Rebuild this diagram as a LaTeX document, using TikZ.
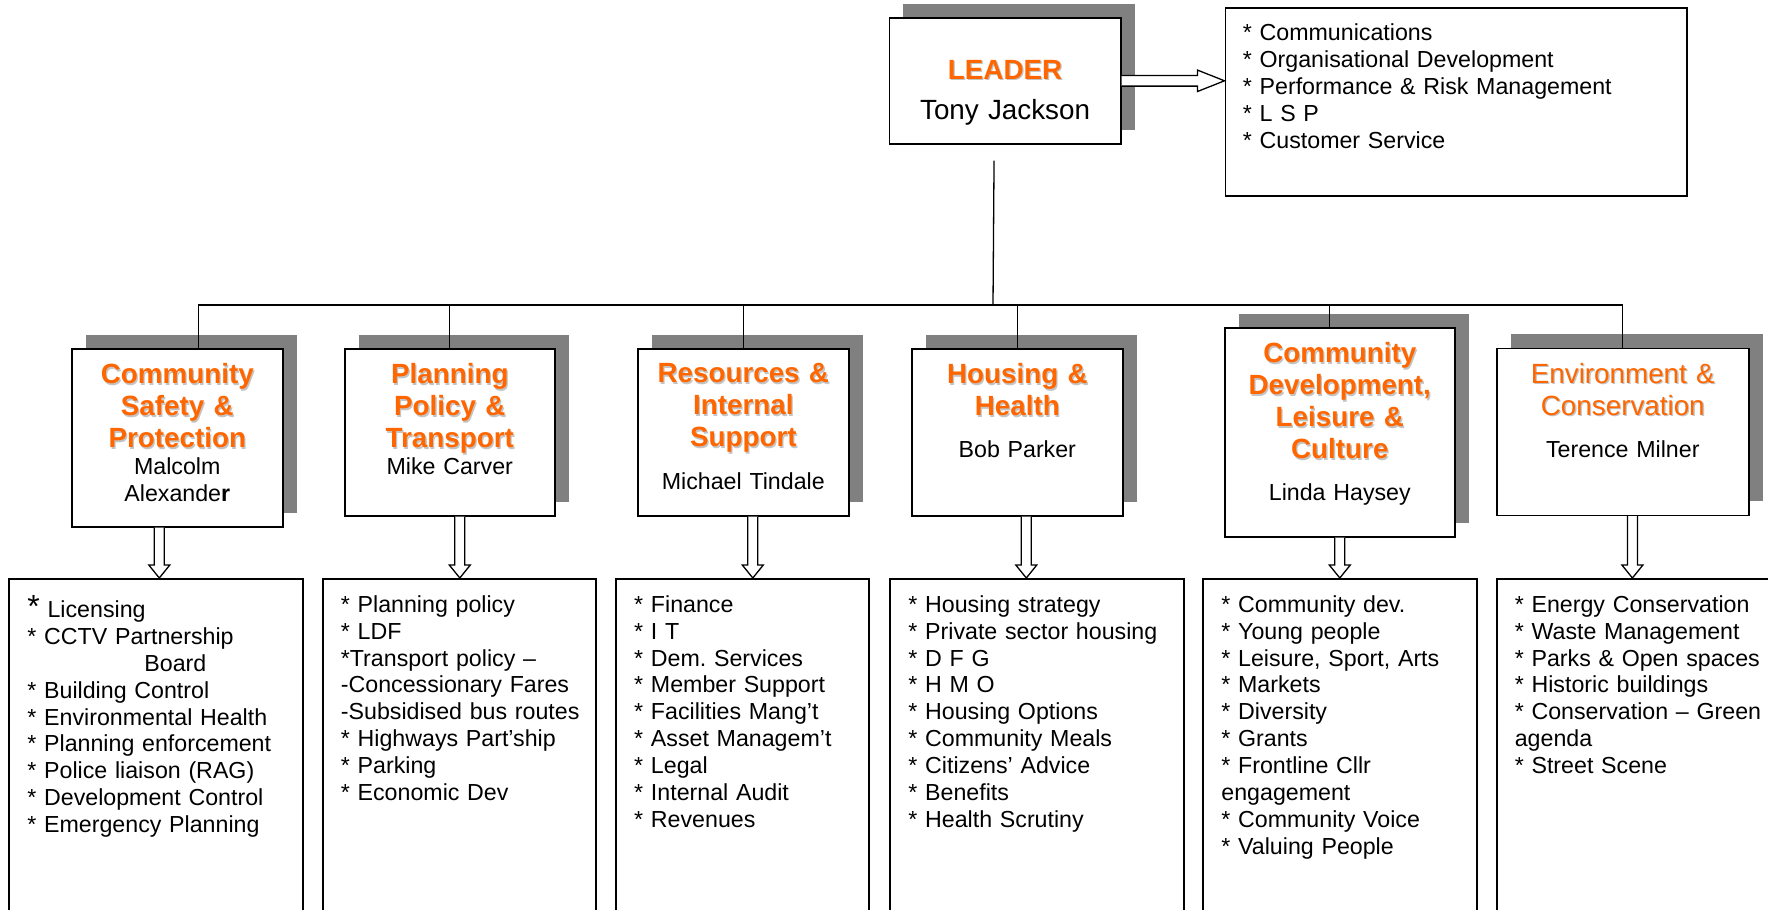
\documentclass[tikz,border=0pt]{standalone}
\usepackage{fontspec}
\setmainfont{Liberation Sans}
\usetikzlibrary{positioning}
\usetikzlibrary{shadows}
\usetikzlibrary{calc}
\frenchspacing

\definecolor{headorange}{HTML}{FF6600}
\definecolor{shadowgrey}{HTML}{808080}
\definecolor{glowgrey}{HTML}{C4C4C4}

\tikzset{
  box/.style={draw,line width=0.8pt,fill=white,inner sep=0pt,anchor=north west},
  shadowbox/.style={box,general shadow={fill=shadowgrey,draw=none,shadow xshift=7pt,shadow yshift=7pt}},
  headtxt/.style={inner sep=0pt,align=center,text width=112pt,font=\fontsize{13.9}{16}\selectfont\bfseries},
  plainhead/.style={font=\fontsize{13.9}{16}\selectfont},
  nametxt/.style={inner sep=0pt,align=center,text width=112pt,font=\fontsize{11.6}{13.45}\selectfont},
  listtxt/.style={inner sep=0pt,align=left,text width=200pt,font=\fontsize{11.6}{13.45}\selectfont},
  link/.style={line width=0.65pt},
  hollow/.style={draw,fill=white,line width=0.65pt,line join=miter},
}

% orange heading, light grey copy behind it
\newcommand{\heading}[4][]{%
  \node[headtxt,#1,#3,shift={(1.3,1.3)},text=glowgrey] (#2s) {#4};
  \node[headtxt,#1,#3,text=headorange] (#2) {#4};}

% open block arrow: xshift, upper node, lower node
\newcommand{\openarrow}[3]{%
  \draw[hollow] let \p1=($(#2.south)+(#1,0)$), \p2=(#3.north) in
    (\x1-2.5pt,\y1) -- (\x1-2.5pt,\y2+6.5pt) -- (\x1-5.25pt,\y2+6.5pt) -- (\x1,\y2)
    -- (\x1+5.25pt,\y2+6.5pt) -- (\x1+2.5pt,\y2+6.5pt) -- (\x1+2.5pt,\y1);}

\begin{document}
\begin{tikzpicture}[x=0.5pt,y=-0.5pt]
  \useasboundingbox (0,0) rectangle (1768,910);
  \clip (0,0) rectangle (1768,910);

  \node[shadowbox,minimum width=115.75pt,minimum height=63pt] (leader) at (888.5,17) {};%リーダー
  \heading{leadhd}{below=21.5pt of leader.north}{LEADER}
  \node[nametxt,plainhead,below=41pt of leader.north] (leadnm) {Tony Jackson};

  \node[box,minimum width=230.75pt,minimum height=94pt] (duties) at (1224.5,7) {};%担当業務
  \node[listtxt,below right=8.25pt and 9pt of duties.north west] (dutiestxt)
    {* Communications\\{}* Organisational Development\\{}* Performance \& Risk Management\\{}* L S P\\{}* Customer Service};

  % departments
  \node[shadowbox,minimum width=105.5pt,minimum height=89pt] (d1) at (71,348) {};
  \heading{d1hd}{below=7.6pt of d1.north}{Community\\Safety \&\\Protection}
  \node[nametxt,below=54.7pt of d1.north] (d1nm) {Malcolm\\Alexande\textbf{r}};

  \node[shadowbox,minimum width=105pt,minimum height=83.5pt] (d2) at (344,348) {};
  \heading{d2hd}{below=7.6pt of d2.north}{Planning\\Policy \&\\Transport}
  \node[nametxt,below=54.7pt of d2.north] (d2nm) {Mike Carver};

  \node[shadowbox,minimum width=105.5pt,minimum height=83.5pt] (d3) at (637,348) {};
  \heading{d3hd}{below=7.6pt of d3.north}{Resources \&\\Internal\\Support}
  \node[nametxt,below=61.9pt of d3.north] (d3nm) {Michael Tindale};

  \node[shadowbox,minimum width=105.5pt,minimum height=83.5pt] (d4) at (911,348) {};
  \heading{d4hd}{below=7.6pt of d4.north}{Housing \&\\Health}
  \node[nametxt,below=46.3pt of d4.north] (d4nm) {Bob Parker};

  \node[shadowbox,minimum width=115pt,minimum height=104.5pt] (d5) at (1224,327) {};
  \heading{d5hd}{below=7.6pt of d5.north}{Community\\Development,\\Leisure \&\\Culture}
  \node[nametxt,below=78.3pt of d5.north] (d5nm) {Linda Haysey};

  \node[shadowbox,minimum width=126pt,minimum height=83.5pt] (d6) at (1496,347.5) {};
  \heading[plainhead]{d6hd}{below=7.6pt of d6.north}{Environment \&\\Conservation}
  \node[nametxt,below=46.4pt of d6.north] (d6nm) {Terence Milner};

  % service lists
  \node[box,minimum width=147pt,minimum height=200pt] (b1) at (8,578) {};
  \node[listtxt,below right=8.5pt and 9.5pt of b1.north west] (b1txt)
    {{\fontsize{16}{16}\selectfont *} Licensing\\{}* CCTV Partnership\\\hspace*{58.5pt}Board\\{}* Building Control\\{}* Environmental Health\\{}* Planning enforcement\\{}* Police liaison (RAG)\\{}* Development Control\\{}* Emergency Planning};

  \node[box,minimum width=136.5pt,minimum height=200pt] (b2) at (322,578) {};
  \node[listtxt,below right=8.5pt and 9.25pt of b2.north west] (b2txt)
    {* Planning policy\\{}* LDF\\{}*Transport policy –\\-Concessionary Fares\\-Subsidised bus routes\\{}* Highways Part’ship\\{}* Parking\\{}* Economic Dev};

  \node[box,minimum width=126.5pt,minimum height=200pt] (b3) at (615,578) {};
  \node[listtxt,below right=8.5pt and 9.4pt of b3.north west] (b3txt)
    {* Finance\\{}* I T\\{}* Dem. Services\\{}* Member Support\\{}* Facilities Mang’t\\{}* Asset Managem’t\\{}* Legal\\{}* Internal Audit\\{}* Revenues};

  \node[box,minimum width=147pt,minimum height=200pt] (b4) at (889,578) {};
  \node[listtxt,below right=8.5pt and 9.5pt of b4.north west] (b4txt)
    {* Housing strategy\\{}* Private sector housing\\{}* D F G\\{}* H M O\\{}* Housing Options\\{}* Community Meals\\{}* Citizens’ Advice\\{}* Benefits\\{}* Health Scrutiny};

  \node[box,minimum width=137pt,minimum height=200pt] (b5) at (1202,578) {};
  \node[listtxt,below right=8.5pt and 9.5pt of b5.north west] (b5txt)
    {* Community dev.\\{}* Young people\\{}* Leisure, Sport, Arts\\{}* Markets\\{}* Diversity\\{}* Grants\\{}* Frontline Cllr\\engagement\\{}* Community Voice\\{}* Valuing People};

  \node[box,minimum width=150pt,minimum height=200pt] (b6) at (1496,578) {};
  \node[listtxt,below right=8.5pt and 9.2pt of b6.north west] (b6txt)
    {* Energy Conservation\\{}* Waste Management\\{}* Parks \& Open spaces\\{}* Historic buildings\\{}* Conservation – Green\\agenda\\{}* Street Scene};

  % connectors
  \coordinate (bus) at (993,305);
  \coordinate (d5top) at ([xshift=-5pt]d5.north);
  \draw[link] ([xshift=-5.5pt,yshift=-8pt]leader.south) -- (bus);%縦線
  \draw[link] ([xshift=10.5pt]d1.north) |- (bus) -| (d6.north);%横線
  \draw[link] (d2.north) -- (d2.north |- bus);
  \draw[link] (d3.north) -- (d3.north |- bus);
  \draw[link] (d4.north) -- (d4.north |- bus);
  \draw[link] (d5top) -- (d5top |- bus);

  \draw[hollow] let \p1=(leader.east), \p2=(duties.west) in
    (\x1,\y1+2.65pt) -- (\x2-13.5pt,\y1+2.65pt) -- (\x2-13.5pt,\y1+5.35pt) -- (\x2,\y1)
    -- (\x2-13.5pt,\y1-5.35pt) -- (\x2-13.5pt,\y1-2.65pt) -- (\x1,\y1-2.65pt);
  \openarrow{-9pt}{d1}{b1}
  \openarrow{5pt}{d2}{b2}
  \openarrow{4.75pt}{d3}{b3}
  \openarrow{4.5pt}{d4}{b4}
  \openarrow{0pt}{d5}{b5}
  \openarrow{4.8pt}{d6}{b6}
\end{tikzpicture}
\end{document}
